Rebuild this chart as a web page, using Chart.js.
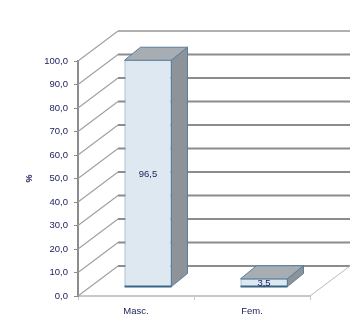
<!DOCTYPE html>
<html>
<head>
<meta charset="utf-8">
<script src="https://cdn.jsdelivr.net/npm/chart.js@4/dist/chart.umd.min.js"></script>
<style>
  body { margin: 0; background: #fff; }
  #wrap { width: 359px; height: 326px; }
</style>
</head>
<body>
<div id="wrap"><canvas id="Chart"></canvas></div>
<script>
const labels = ["Masc.", "Fem."];
const values = [96.5, 3.5];
const yTicks = [0, 10, 20, 30, 40, 50, 60, 70, 80, 90, 100];

// depth of the 3d box and of the bars (pixels)
const wallDx = 40, wallDy = -30;
const barDx = 12, barDy = -9;
const sideDx = 16, sideDy = -13;

const fmt = v => v.toFixed(1).replace(".", ",");

const walls = {
    id: "walls",
    beforeDatasetsDraw(chart) {
        const ctx = chart.ctx;
        const a = chart.chartArea;
        const y = chart.scales.y;
        ctx.save();
        yTicks.forEach(v => {
            const py = y.getPixelForValue(v);
            // left wall
            ctx.strokeStyle = "#a0a0a0";
            ctx.lineWidth = 1.2;
            ctx.beginPath();
            ctx.moveTo(a.left, py);
            ctx.lineTo(a.left + wallDx, py + wallDy);
            ctx.stroke();
            // back wall
            ctx.strokeStyle = v === 100 ? "#b0b0b0" : "#8c8c8c";
            ctx.lineWidth = 2;
            ctx.beginPath();
            ctx.moveTo(a.left + wallDx, py + wallDy);
            ctx.lineTo(a.right + wallDx, py + wallDy);
            ctx.stroke();
        });
        // floor right edge
        ctx.strokeStyle = "#b8b8b8";
        ctx.lineWidth = 1;
        ctx.beginPath();
        ctx.moveTo(a.right, a.bottom);
        ctx.lineTo(a.right + wallDx, a.bottom + wallDy);
        ctx.stroke();
        ctx.restore();

        ctx.save();
        ctx.translate(barDx, barDy);
    },
    afterDatasetsDraw(chart) {
        const ctx = chart.ctx;
        chart.getDatasetMeta(0).data.forEach((bar, i) => {
            const l = bar.x - bar.width / 2, r = bar.x + bar.width / 2;
            const t = bar.y, b = bar.base;
            // top face
            ctx.fillStyle = "#a7adb3";
            ctx.strokeStyle = "#5a7f9c";
            ctx.lineWidth = 1;
            ctx.beginPath();
            ctx.moveTo(l, t);
            ctx.lineTo(l + sideDx, t + sideDy);
            ctx.lineTo(r + sideDx, t + sideDy);
            ctx.lineTo(r, t);
            ctx.closePath();
            ctx.fill();
            ctx.stroke();
            // side face
            ctx.fillStyle = "#8d9399";
            ctx.beginPath();
            ctx.moveTo(r, t);
            ctx.lineTo(r + sideDx, t + sideDy);
            ctx.lineTo(r + sideDx, b + sideDy);
            ctx.lineTo(r, b);
            ctx.closePath();
            ctx.fill();
            ctx.stroke();
            // dark bottom edge
            ctx.strokeStyle = "#3b6585";
            ctx.lineWidth = 2;
            ctx.beginPath();
            ctx.moveTo(l, b);
            ctx.lineTo(r, b);
            ctx.stroke();
            // value label
            ctx.fillStyle = "#1c1c5c";
            ctx.font = "9.5px Arial, 'Liberation Sans', sans-serif";
            ctx.textAlign = "center";
            ctx.textBaseline = "middle";
            ctx.fillText(fmt(values[i]), bar.x, (t + b) / 2 + 1);
        });
        ctx.restore();
    }
};

const data = {
    labels: labels,
    datasets: [{
        data: values,
        backgroundColor: "#dde8f1",
        borderColor: "#5f88a8",
        borderWidth: 1,
        barPercentage: 0.405,
        categoryPercentage: 1,
        clip: false
    }]
};

const config = {
    type: "bar",
    data: data,
    options: {
        responsive: true,
        maintainAspectRatio: false,
        animation: false,
        layout: { padding: { top: 61, right: 49, left: 20, bottom: 0 } },
        plugins: { legend: { display: false }, tooltip: { enabled: false } },
        scales: {
            x: {
                grid: { display: true, drawOnChartArea: false, drawTicks: true, tickLength: 4, color: "#c8c8c8" },
                border: { display: true, color: "#c8c8c8", width: 2 },
                ticks: { color: "#1c1c5c", font: { family: "Arial", size: 9.5 }, padding: 6 },
                afterFit(s) { s.height = 30; }
            },
            y: {
                min: 0,
                max: 100,
                afterBuildTicks(s) { s.ticks = yTicks.map(v => ({ value: v })); },
                grid: { display: true, drawOnChartArea: false, drawTicks: true, tickLength: 4, color: "#8c8c8c" },
                border: { display: true, color: "#8c8c8c", width: 2 },
                ticks: { color: "#1c1c5c", font: { family: "Arial", size: 9.5 }, padding: 6, callback: v => fmt(v) },
                title: { display: true, text: "%", color: "#1c1c5c", font: { family: "Arial", size: 9, weight: "bold" }, padding: { top: 4, bottom: 0 } },
                afterFit(s) { s.width = 58; }
            }
        }
    },
    plugins: [walls]
};

const myChart = new Chart(document.getElementById("Chart"), config);
</script>
</body>
</html>
